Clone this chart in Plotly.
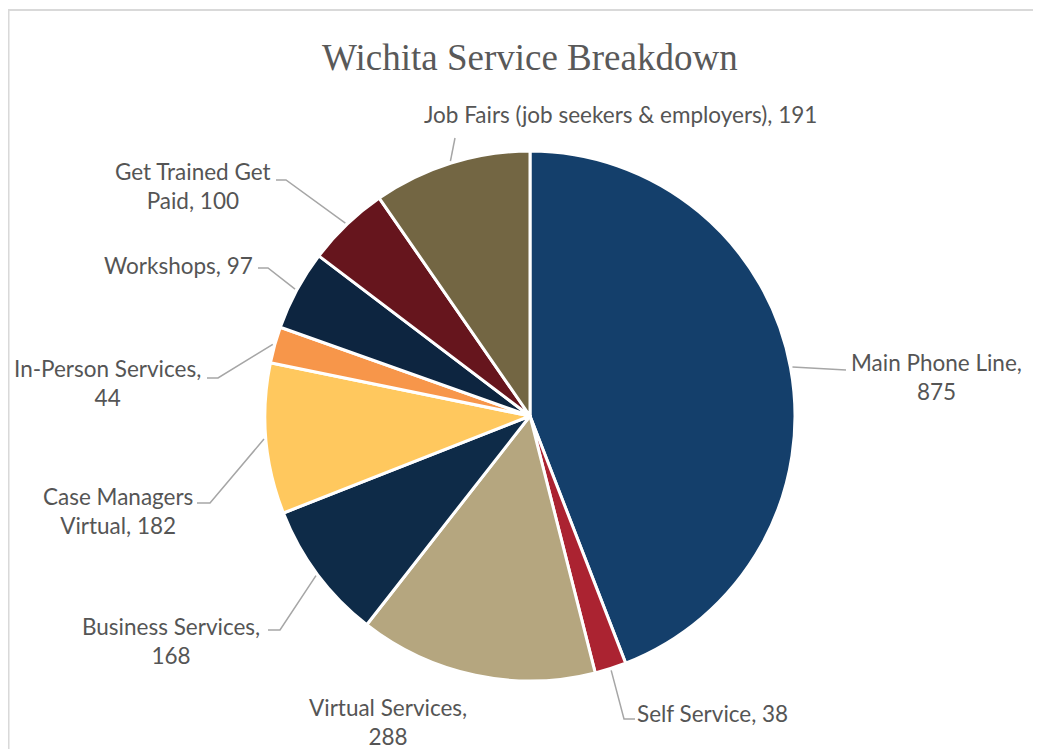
import math
import plotly.graph_objects as go

# ---- data ----
categories = ["Main Phone Line", "Self Service", "Virtual Services", "Business Services",
              "Case Managers Virtual", "In-Person Services", "Workshops",
              "Get Trained Get Paid", "Job Fairs (job seekers & employers)"]
values = [875, 38, 288, 168, 182, 44, 97, 100, 191]
colors = ["#143F6B", "#AB2331", "#B5A67F", "#0E2B48", "#FFC85E",
          "#F7964A", "#0D2540", "#66151D", "#736643"]
label_texts = ["Main Phone Line,<br>875", "Self Service, 38", "Virtual Services,<br>288",
               "Business Services,<br>168", "Case Managers<br>Virtual, 182",
               "In-Person Services,<br>44", "Workshops, 97", "Get Trained Get<br>Paid, 100",
               "Job Fairs (job seekers & employers), 191"]

W, H = 1041, 749
OFF = 8  # page body margin offset
# pie placement in page pixels (layout)
CX, CY, R = 530, 416, 265

# label layout positions (page pixels): center of text block
label_pos = [(936, 377), (712, 713), (388, 722), (171, 641), (118, 511),
             (107, 383), (178, 265), (193, 186), (620, 115)]
# leader line elbow / end points (page pixels); None = no leader
leaders = [[(846, 370)], [(624, 719), (635, 719)], None, [(280, 630), (268, 630)],
           [(210, 503), (197, 503)], [(218, 378), (207, 378)], [(268, 268), (258, 268)],
           [(286, 180), (276, 180)], [(455, 138)]]

def px(x):
    return (x - OFF) / W

def py(y):
    return 1 - (y - OFF) / H

fig = go.Figure()
fig.add_trace(go.Pie(
    labels=categories, values=values, sort=False, direction="clockwise", rotation=0,
    marker=dict(colors=colors, line=dict(color="white", width=3)),
    textinfo="none", hoverinfo="label+value",
    domain=dict(x=[px(CX - R), px(CX + R)], y=[py(CY + R), py(CY - R)]),
    showlegend=False,
))

total = sum(values)
cum = 0
shapes = []
annotations = []
for i, v in enumerate(values):
    mid = (cum + v / 2) / total
    cum += v
    ang = 2 * math.pi * mid
    ex = CX + (R + 2) * math.sin(ang)
    ey = CY - (R + 2) * math.cos(ang)
    if leaders[i]:
        pts = [(ex, ey)] + leaders[i]
        path = "M " + " L ".join(f"{px(a)},{py(b)}" for a, b in pts)
        shapes.append(dict(type="path", xref="paper", yref="paper", path=path,
                           line=dict(color="#A6A6A6", width=1.5)))
    lx, ly = label_pos[i]
    annotations.append(dict(x=px(lx), y=py(ly), xref="paper", yref="paper",
                            text=label_texts[i], showarrow=False, align="center",
                            xanchor="center", yanchor="middle",
                            font=dict(family="Lato, Carlito, Calibri, sans-serif", size=22.5,
                                      color="#555555")))

annotations.append(dict(x=px(530), y=py(57), xref="paper", yref="paper",
                        text="Wichita Service Breakdown", showarrow=False,
                        xanchor="center", yanchor="middle",
                        font=dict(family="Liberation Serif, Times New Roman, serif", size=37,
                                  color="#595959")))

shapes.append(dict(type="rect", xref="paper", yref="paper", x0=0.0005, x1=1.2,
                   y0=-0.2, y1=py(10), line=dict(color="#D9D9D9", width=2)))

fig.update_layout(width=W, height=H, margin=dict(l=0, r=0, t=0, b=0),
                  paper_bgcolor="white", plot_bgcolor="white",
                  shapes=shapes, annotations=annotations)

fig.write_html("out.html")
